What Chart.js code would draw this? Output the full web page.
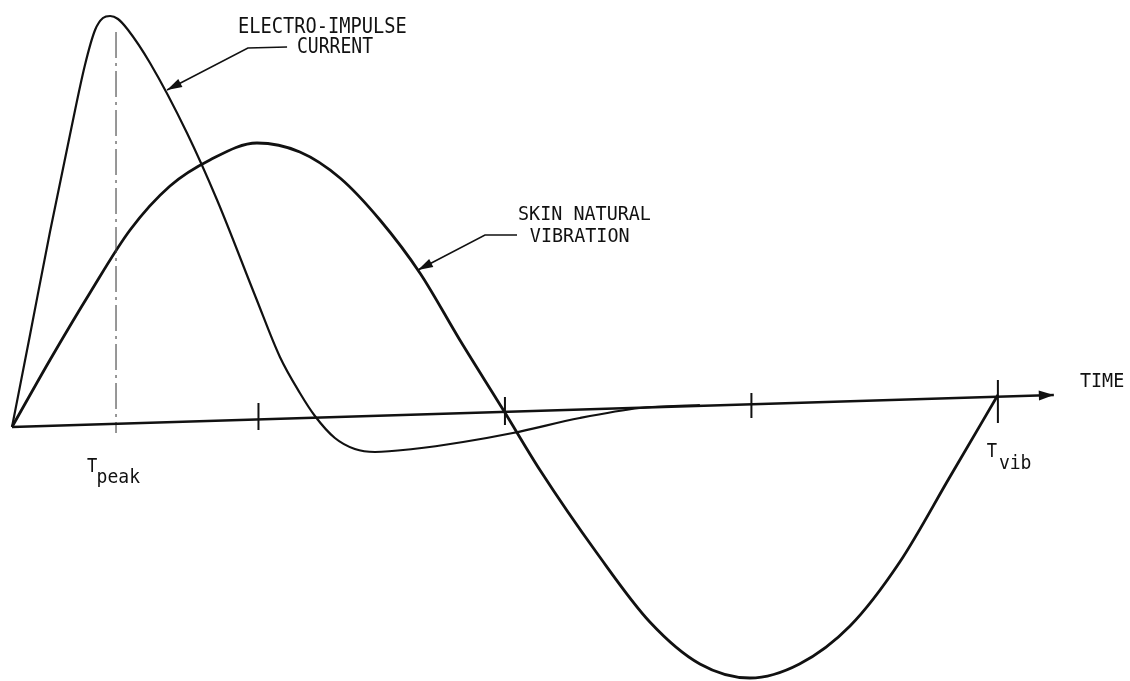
<!DOCTYPE html>
<html>
<head>
<meta charset="utf-8">
<script src="https://cdn.jsdelivr.net/npm/chart.js@4/dist/chart.umd.min.js"></script>
<style>
  html, body { margin: 0; padding: 0; background: #fff; }
  #wrap { width: 1130px; height: 681px; position: relative; }
</style>
</head>
<body>
<div id="wrap"><canvas id="chart"></canvas></div>
<script>
// time in tick units (T_vib = 4), amplitude in arbitrary units
// values (the time axis is slightly tilted in the scan)
const currentTime = [0, 0.073, 0.154, 0.235, 0.296, 0.337, 0.369, 0.398, 0.430, 0.471, 0.560, 0.710,
  0.832, 0.990, 1.087, 1.168, 1.229, 1.310, 1.391, 1.473, 1.627, 1.830, 2.032, 2.304, 2.548, 2.791];
const currentValue = [0, 0.92, 1.95, 2.92, 3.62, 3.97, 4.09, 4.11, 4.08, 3.97, 3.64, 2.94,
  2.27, 1.29, 0.70, 0.34, 0.11, -0.11, -0.22, -0.25, -0.22, -0.15, -0.06, 0.09, 0.19, 0.22];

const vibTime = [0, 0.154, 0.316, 0.479, 0.641, 0.803, 0.994, 1.168, 1.331, 1.493, 1.655, 1.817, 1.996,
  2.142, 2.373, 2.588, 2.791, 2.994, 3.195, 3.400, 3.602, 3.805, 4.000];
const vibValue = [0, 0.67, 1.34, 1.97, 2.41, 2.67, 2.84, 2.75, 2.49, 2.07, 1.54, 0.87, 0.16,
  -0.43, -1.26, -1.95, -2.37, -2.51, -2.37, -1.99, -1.35, -0.50, 0.32];

// time axis (drawn as a line, arrow at the end)
const axisTime = [0, 4.227];
const axisValue = [0, 0.32];

// tick marks on the time axis
const tickTime = [1, 2, 3, 4];
const tickTop = [0.24, 0.30, 0.34, 0.47];
const tickBottom = [-0.03, 0.02, 0.09, 0.04];

// T_peak guide line
const peakTime = 0.422;
const peakTop = 3.95;
const peakBottom = -0.06;

const pts = (xs, ys) => xs.map((x, i) => ({ x, y: ys[i] }));

const INK = "#111";

const datasets = [
  { data: pts(axisTime, axisValue), borderColor: INK, borderWidth: 2.4, tension: 0 },
  { data: [{ x: peakTime, y: peakTop }, { x: peakTime, y: peakBottom }],
    borderColor: "#444", borderWidth: 1.1, borderDash: [26, 5, 3, 5] },
  { data: pts(currentTime, currentValue), borderColor: INK, borderWidth: 2.2, cubicInterpolationMode: "monotone" },
  { data: pts(vibTime, vibValue), borderColor: INK, borderWidth: 2.8, cubicInterpolationMode: "monotone" },
];
tickTime.forEach((t, i) => {
  datasets.push({ data: [{ x: t, y: tickTop[i] }, { x: t, y: tickBottom[i] }], borderColor: INK, borderWidth: 2 });
});
datasets.forEach((d) => { d.pointRadius = 0; d.fill = false; d.clip = false; });

// labels and leader arrows, placed in data units
const labels = [
  { text: "ELECTRO-IMPULSE", t: 0.917, v: 3.94, size: 21, sx: 0.89 },
  { text: "CURRENT", t: 1.156, v: 3.74, size: 21, sx: 0.86 },
  { text: "SKIN NATURAL", t: 2.053, v: 2.07, size: 20, sx: 0.92 },
  { text: "VIBRATION", t: 2.101, v: 1.85, size: 20, sx: 0.92 },
  { text: "TIME", t: 4.333, v: 0.40, size: 20, sx: 0.92 },
  { text: "T", t: 0.304, v: -0.45, size: 19, sx: 0.9 },
  { text: "peak", t: 0.343, v: -0.56, size: 19, sx: 0.95 },
  { text: "T", t: 3.955, v: -0.30, size: 19, sx: 0.9 },
  { text: "vib", t: 4.004, v: -0.42, size: 19, sx: 0.95 },
];
const leaders = [
  [[1.116, 3.80], [0.957, 3.79], [0.629, 3.37]],
  [[2.049, 1.92], [1.919, 1.92], [1.647, 1.57]],
];

function arrowHead(ctx, x0, y0, x1, y1, len, half) {
  const a = Math.atan2(y1 - y0, x1 - x0);
  ctx.save();
  ctx.translate(x1, y1);
  ctx.rotate(a);
  ctx.beginPath();
  ctx.moveTo(0, 0);
  ctx.lineTo(-len, -half);
  ctx.lineTo(-len, half);
  ctx.closePath();
  ctx.fill();
  ctx.restore();
}

const sketchPlugin = {
  id: "sketch",
  afterDatasetsDraw(chart) {
    const { ctx, scales } = chart;
    const px = (t, v) => [scales.x.getPixelForValue(t), scales.y.getPixelForValue(v)];
    ctx.save();
    ctx.fillStyle = INK;
    ctx.strokeStyle = INK;

    // axis arrow
    const n = axisTime.length;
    const a0 = px(axisTime[n - 2], axisValue[n - 2]);
    const a1 = px(axisTime[n - 1], axisValue[n - 1]);
    arrowHead(ctx, a0[0], a0[1], a1[0], a1[1], 15, 5);

    // leader lines
    ctx.lineWidth = 1.6;
    leaders.forEach((path) => {
      const p = path.map((q) => px(q[0], q[1]));
      ctx.beginPath();
      p.forEach((q, i) => (i ? ctx.lineTo(q[0], q[1]) : ctx.moveTo(q[0], q[1])));
      ctx.stroke();
      const e = p.length - 1;
      arrowHead(ctx, p[e - 1][0], p[e - 1][1], p[e][0], p[e][1], 15, 4.5);
    });

    // text
    ctx.textBaseline = "alphabetic";
    ctx.textAlign = "left";
    labels.forEach((l) => {
      const [x, y] = px(l.t, l.v);
      ctx.save();
      ctx.translate(x, y);
      ctx.scale(l.sx, 1);
      ctx.font = `${l.size}px "DejaVu Sans Mono"`;
      ctx.fillText(l.text, 0, 0);
      ctx.restore();
    });
    ctx.restore();
  },
};

new Chart(document.getElementById("chart"), {
  type: "line",
  data: { datasets },
  options: {
    responsive: true,
    maintainAspectRatio: false,
    animation: false,
    events: [],
    layout: { padding: 0 },
    plugins: { legend: { display: false }, tooltip: { enabled: false } },
    scales: {
      x: { type: "linear", display: false, min: -0.0487, max: 4.536 },
      y: { type: "linear", display: false, min: -2.54, max: 4.27 },
    },
  },
  plugins: [sketchPlugin],
});
</script>
</body>
</html>
